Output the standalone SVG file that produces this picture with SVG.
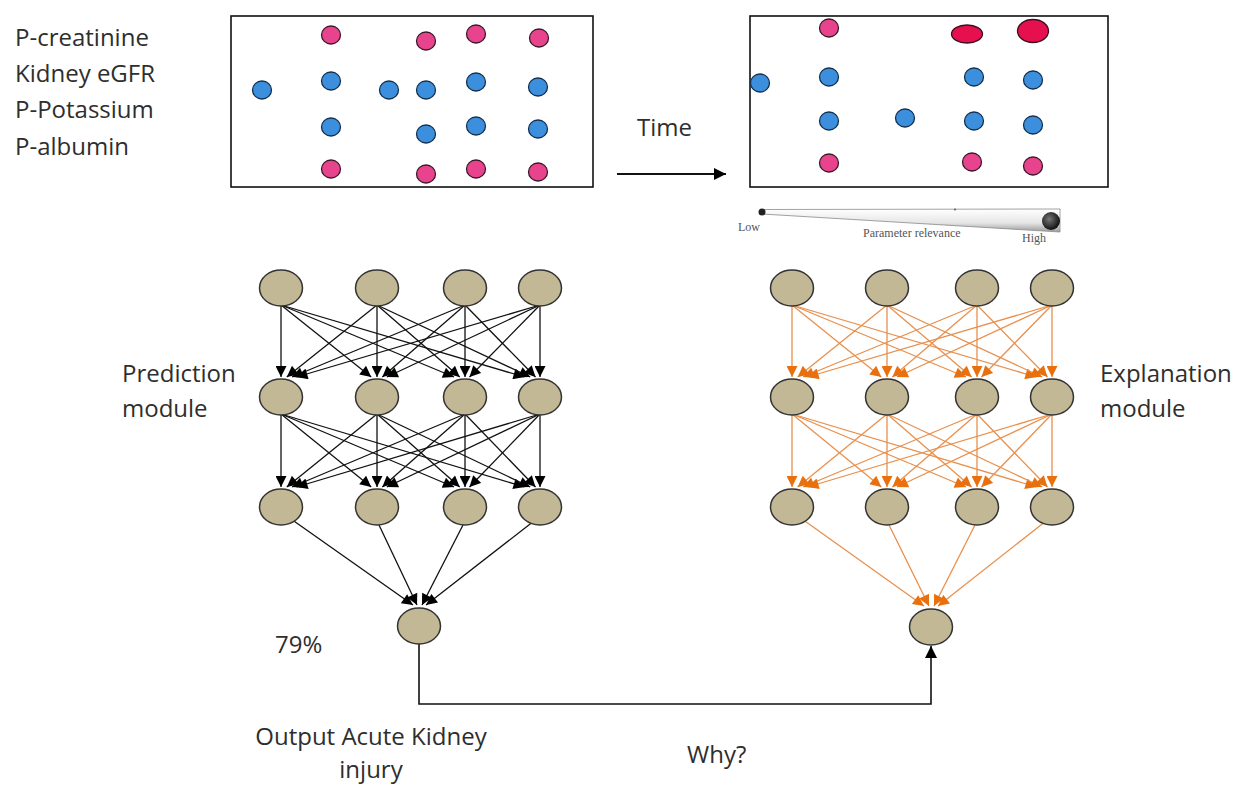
<svg xmlns="http://www.w3.org/2000/svg" width="1235" height="787" viewBox="0 0 1235 787">
<style>
.t{font-family:"Open Sans","Liberation Sans",sans-serif;font-size:24px;fill:#2e2e2e}
.s{font-family:"Liberation Serif","Times New Roman",serif;font-size:12px;fill:#555}
.box{fill:#fff;stroke:#111;stroke-width:1.6}
.pk{fill:#E8438D;stroke:#3a1a28;stroke-width:1.3}
.bl{fill:#3C8FDD;stroke:#14304f;stroke-width:1.3}
.rd{fill:#E6104F;stroke:#3a1020;stroke-width:1.3}
.nd{fill:#C3B896;stroke:#333;stroke-width:1.5}
.eb{stroke:#111;stroke-width:1.3;fill:none;marker-end:url(#ahb)}
.eo{stroke:#E8904E;stroke-width:1.3;fill:none;marker-end:url(#aho)}
.ln{stroke:#111;stroke-width:1.6;fill:none}
</style>
<defs>
<marker id="ahb" viewBox="0 0 10 10" refX="10" refY="5" markerWidth="13" markerHeight="11" markerUnits="userSpaceOnUse" orient="auto"><path d="M0,0 L10,5 L0,10 z" fill="#000"/></marker>
<marker id="aho" viewBox="0 0 10 10" refX="10" refY="5" markerWidth="13" markerHeight="11" markerUnits="userSpaceOnUse" orient="auto"><path d="M0,0 L10,5 L0,10 z" fill="#E8700F"/></marker>
<marker id="ahk" viewBox="0 0 10 10" refX="10" refY="5" markerWidth="14" markerHeight="12" markerUnits="userSpaceOnUse" orient="auto"><path d="M0,0 L10,5 L0,10 z" fill="#000"/></marker>
<linearGradient id="grad" x1="0" y1="0" x2="1" y2="0">
<stop offset="0" stop-color="#C63F72"/>
<stop offset="0.4" stop-color="#D8449A"/>
<stop offset="0.75" stop-color="#8E5FA8"/>
<stop offset="1" stop-color="#3FA2D2"/>
</linearGradient>
<linearGradient id="wedge" x1="0" y1="0" x2="0" y2="1">
<stop offset="0" stop-color="#ffffff"/>
<stop offset="0.6" stop-color="#e6e6e6"/>
<stop offset="1" stop-color="#9a9a9a"/>
</linearGradient>
<radialGradient id="ball" cx="0.4" cy="0.4" r="0.6">
<stop offset="0" stop-color="#777"/>
<stop offset="1" stop-color="#111"/>
</radialGradient>
</defs>

<g id="labels-left">
<text class="t" x="15" y="46">P-creatinine</text>
<text class="t" x="15" y="82">Kidney eGFR</text>
<text class="t" x="15" y="118">P-Potassium</text>
<text class="t" x="15" y="155">P-albumin</text>
</g>

<g id="box-before">
<rect class="box" x="231" y="16" width="362" height="171"/>
<ellipse class="pk" cx="331" cy="35" rx="9.5" ry="9"/>
<ellipse class="pk" cx="426" cy="41" rx="9.5" ry="9"/>
<ellipse class="pk" cx="476" cy="34" rx="9.5" ry="9"/>
<ellipse class="pk" cx="539" cy="38" rx="9.5" ry="9"/>
<ellipse class="bl" cx="262" cy="90" rx="9.5" ry="9"/>
<ellipse class="bl" cx="331" cy="81" rx="9.5" ry="9"/>
<ellipse class="bl" cx="389" cy="90" rx="9.5" ry="9"/>
<ellipse class="bl" cx="426" cy="90" rx="9.5" ry="9"/>
<ellipse class="bl" cx="476" cy="82" rx="9.5" ry="9"/>
<ellipse class="bl" cx="538" cy="87" rx="9.5" ry="9"/>
<ellipse class="bl" cx="331" cy="127" rx="9.5" ry="9"/>
<ellipse class="bl" cx="426" cy="134" rx="9.5" ry="9"/>
<ellipse class="bl" cx="476" cy="126" rx="9.5" ry="9"/>
<ellipse class="bl" cx="538" cy="129" rx="9.5" ry="9"/>
<ellipse class="pk" cx="331" cy="169" rx="9.5" ry="9"/>
<ellipse class="pk" cx="426" cy="174" rx="9.5" ry="9"/>
<ellipse class="pk" cx="476" cy="169" rx="9.5" ry="9"/>
<ellipse class="pk" cx="538" cy="172" rx="9.5" ry="9"/>
</g>

<g id="time">
<text class="t" x="637" y="136">Time</text>
<line x1="617" y1="174" x2="726" y2="174" stroke="#111" stroke-width="1.8" marker-end="url(#ahk)"/>
</g>

<g id="box-after">
<rect class="box" x="750" y="16" width="358" height="171"/>
<ellipse class="pk" cx="829" cy="28" rx="9.5" ry="9"/>
<ellipse class="rd" cx="967" cy="34" rx="15.5" ry="9"/>
<ellipse class="rd" cx="1033" cy="31" rx="15.5" ry="11.5"/>
<ellipse class="bl" cx="760" cy="83" rx="9.5" ry="9"/>
<ellipse class="bl" cx="829" cy="77" rx="9.5" ry="9"/>
<ellipse class="bl" cx="974" cy="77" rx="9.5" ry="9"/>
<ellipse class="bl" cx="1033" cy="80" rx="9.5" ry="9"/>
<ellipse class="bl" cx="829" cy="121" rx="9.5" ry="9"/>
<ellipse class="bl" cx="905" cy="118" rx="9.5" ry="9"/>
<ellipse class="bl" cx="974" cy="121" rx="9.5" ry="9"/>
<ellipse class="bl" cx="1033" cy="125" rx="9.5" ry="9"/>
<ellipse class="pk" cx="829" cy="163" rx="9.5" ry="9"/>
<ellipse class="pk" cx="972" cy="162" rx="9.5" ry="9"/>
<ellipse class="pk" cx="1033" cy="166" rx="9.5" ry="9"/>
</g>

<g id="gradient-bar">
<line x1="302" y1="212" x2="688" y2="212" stroke="url(#grad)" stroke-width="3.5"/>
</g>

<g id="relevance-scale">
<polygon points="762,209.5 1060,209 1060,232 762,214" fill="url(#wedge)" stroke="#8a8a8a" stroke-width="0.8"/>
<circle cx="762" cy="212" r="3.5" fill="#222"/>
<circle cx="1051" cy="221" r="9" fill="url(#ball)"/>
<circle cx="955" cy="209.5" r="1" fill="#555"/>
<text class="s" x="738" y="231">Low</text>
<text class="s" x="863" y="237">Parameter relevance</text>
<text class="s" x="1022" y="242">High</text>
</g>

<g id="connectors">
<g id="pred-edges">
<line class="eb" x1="281" y1="305" x2="281" y2="377"/>
<line class="eb" x1="281" y1="305" x2="371.2" y2="377"/>
<line class="eb" x1="281" y1="305" x2="454" y2="377"/>
<line class="eb" x1="281" y1="305" x2="524.5" y2="377"/>
<line class="eb" x1="377" y1="305" x2="286.8" y2="377"/>
<line class="eb" x1="377" y1="305" x2="377" y2="377"/>
<line class="eb" x1="377" y1="305" x2="459.7" y2="377"/>
<line class="eb" x1="377" y1="305" x2="530.2" y2="377"/>
<line class="eb" x1="465" y1="305" x2="292" y2="377"/>
<line class="eb" x1="465" y1="305" x2="382.3" y2="377"/>
<line class="eb" x1="465" y1="305" x2="465" y2="377"/>
<line class="eb" x1="465" y1="305" x2="535.5" y2="377"/>
<line class="eb" x1="540" y1="305" x2="296.5" y2="377"/>
<line class="eb" x1="540" y1="305" x2="386.8" y2="377"/>
<line class="eb" x1="540" y1="305" x2="469.5" y2="377"/>
<line class="eb" x1="540" y1="305" x2="540" y2="377"/>
<line class="eb" x1="281" y1="414" x2="281" y2="487"/>
<line class="eb" x1="281" y1="414" x2="371.2" y2="487"/>
<line class="eb" x1="281" y1="414" x2="454" y2="487"/>
<line class="eb" x1="281" y1="414" x2="524.5" y2="487"/>
<line class="eb" x1="377" y1="414" x2="286.8" y2="487"/>
<line class="eb" x1="377" y1="414" x2="377" y2="487"/>
<line class="eb" x1="377" y1="414" x2="459.7" y2="487"/>
<line class="eb" x1="377" y1="414" x2="530.2" y2="487"/>
<line class="eb" x1="465" y1="414" x2="292" y2="487"/>
<line class="eb" x1="465" y1="414" x2="382.3" y2="487"/>
<line class="eb" x1="465" y1="414" x2="465" y2="487"/>
<line class="eb" x1="465" y1="414" x2="535.5" y2="487"/>
<line class="eb" x1="540" y1="414" x2="296.5" y2="487"/>
<line class="eb" x1="540" y1="414" x2="386.8" y2="487"/>
<line class="eb" x1="540" y1="414" x2="469.5" y2="487"/>
<line class="eb" x1="540" y1="414" x2="540" y2="487"/>
<line class="eb" x1="291" y1="519" x2="413" y2="605"/>
<line class="eb" x1="379" y1="525" x2="417" y2="605"/>
<line class="eb" x1="463" y1="525" x2="422" y2="605"/>
<line class="eb" x1="534" y1="521" x2="426" y2="605"/>
</g>
<g id="expl-edges">
<line class="eo" x1="792" y1="305" x2="792" y2="377"/>
<line class="eo" x1="792" y1="305" x2="881.3" y2="377"/>
<line class="eo" x1="792" y1="305" x2="965.9" y2="377"/>
<line class="eo" x1="792" y1="305" x2="1036.4" y2="377"/>
<line class="eo" x1="887" y1="305" x2="797.7" y2="377"/>
<line class="eo" x1="887" y1="305" x2="887" y2="377"/>
<line class="eo" x1="887" y1="305" x2="971.6" y2="377"/>
<line class="eo" x1="887" y1="305" x2="1042.2" y2="377"/>
<line class="eo" x1="977" y1="305" x2="803.1" y2="377"/>
<line class="eo" x1="977" y1="305" x2="892.4" y2="377"/>
<line class="eo" x1="977" y1="305" x2="977" y2="377"/>
<line class="eo" x1="977" y1="305" x2="1047.5" y2="377"/>
<line class="eo" x1="1052" y1="305" x2="807.6" y2="377"/>
<line class="eo" x1="1052" y1="305" x2="896.9" y2="377"/>
<line class="eo" x1="1052" y1="305" x2="981.5" y2="377"/>
<line class="eo" x1="1052" y1="305" x2="1052" y2="377"/>
<line class="eo" x1="792" y1="414" x2="792" y2="487"/>
<line class="eo" x1="792" y1="414" x2="881.3" y2="487"/>
<line class="eo" x1="792" y1="414" x2="965.9" y2="487"/>
<line class="eo" x1="792" y1="414" x2="1036.4" y2="487"/>
<line class="eo" x1="887" y1="414" x2="797.7" y2="487"/>
<line class="eo" x1="887" y1="414" x2="887" y2="487"/>
<line class="eo" x1="887" y1="414" x2="971.6" y2="487"/>
<line class="eo" x1="887" y1="414" x2="1042.2" y2="487"/>
<line class="eo" x1="977" y1="414" x2="803.1" y2="487"/>
<line class="eo" x1="977" y1="414" x2="892.4" y2="487"/>
<line class="eo" x1="977" y1="414" x2="977" y2="487"/>
<line class="eo" x1="977" y1="414" x2="1047.5" y2="487"/>
<line class="eo" x1="1052" y1="414" x2="807.6" y2="487"/>
<line class="eo" x1="1052" y1="414" x2="896.9" y2="487"/>
<line class="eo" x1="1052" y1="414" x2="981.5" y2="487"/>
<line class="eo" x1="1052" y1="414" x2="1052" y2="487"/>
<line class="eo" x1="802" y1="519" x2="924" y2="606"/>
<line class="eo" x1="889" y1="525" x2="929" y2="606"/>
<line class="eo" x1="975" y1="525" x2="934" y2="606"/>
<line class="eo" x1="1046" y1="521" x2="938" y2="606"/>
</g>
<path id="why-link" class="ln" d="M419,644 V704 H931 V646" marker-end="url(#ahk)"/>
</g>

<g id="pred-l1-n1"><ellipse class="nd" cx="281" cy="288" rx="21.5" ry="18"/></g>
<g id="pred-l1-n2"><ellipse class="nd" cx="377" cy="288" rx="21.5" ry="18"/></g>
<g id="pred-l1-n3"><ellipse class="nd" cx="465" cy="288" rx="21.5" ry="18"/></g>
<g id="pred-l1-n4"><ellipse class="nd" cx="540" cy="288" rx="21.5" ry="18"/></g>
<g id="pred-l2-n1"><ellipse class="nd" cx="281" cy="397" rx="21.5" ry="18"/></g>
<g id="pred-l2-n2"><ellipse class="nd" cx="377" cy="397" rx="21.5" ry="18"/></g>
<g id="pred-l2-n3"><ellipse class="nd" cx="465" cy="397" rx="21.5" ry="18"/></g>
<g id="pred-l2-n4"><ellipse class="nd" cx="540" cy="397" rx="21.5" ry="18"/></g>
<g id="pred-l3-n1"><ellipse class="nd" cx="281" cy="507" rx="21.5" ry="18"/></g>
<g id="pred-l3-n2"><ellipse class="nd" cx="377" cy="507" rx="21.5" ry="18"/></g>
<g id="pred-l3-n3"><ellipse class="nd" cx="465" cy="507" rx="21.5" ry="18"/></g>
<g id="pred-l3-n4"><ellipse class="nd" cx="540" cy="507" rx="21.5" ry="18"/></g>
<g id="pred-out"><ellipse class="nd" cx="419" cy="626" rx="21.5" ry="18"/></g>

<g id="expl-l1-n1"><ellipse class="nd" cx="792" cy="288" rx="21.5" ry="18"/></g>
<g id="expl-l1-n2"><ellipse class="nd" cx="887" cy="288" rx="21.5" ry="18"/></g>
<g id="expl-l1-n3"><ellipse class="nd" cx="977" cy="288" rx="21.5" ry="18"/></g>
<g id="expl-l1-n4"><ellipse class="nd" cx="1052" cy="288" rx="21.5" ry="18"/></g>
<g id="expl-l2-n1"><ellipse class="nd" cx="792" cy="397" rx="21.5" ry="18"/></g>
<g id="expl-l2-n2"><ellipse class="nd" cx="887" cy="397" rx="21.5" ry="18"/></g>
<g id="expl-l2-n3"><ellipse class="nd" cx="977" cy="397" rx="21.5" ry="18"/></g>
<g id="expl-l2-n4"><ellipse class="nd" cx="1052" cy="397" rx="21.5" ry="18"/></g>
<g id="expl-l3-n1"><ellipse class="nd" cx="792" cy="507" rx="21.5" ry="18"/></g>
<g id="expl-l3-n2"><ellipse class="nd" cx="887" cy="507" rx="21.5" ry="18"/></g>
<g id="expl-l3-n3"><ellipse class="nd" cx="977" cy="507" rx="21.5" ry="18"/></g>
<g id="expl-l3-n4"><ellipse class="nd" cx="1052" cy="507" rx="21.5" ry="18"/></g>
<g id="expl-out"><ellipse class="nd" cx="931" cy="627" rx="21.5" ry="18"/></g>

<g id="label-prediction">
<text class="t" x="122" y="382">Prediction</text>
<text class="t" x="122" y="417">module</text>
</g>
<g id="label-explanation">
<text class="t" x="1100" y="382">Explanation</text>
<text class="t" x="1100" y="417">module</text>
</g>
<g id="label-pct"><text class="t" x="275" y="653">79%</text></g>
<g id="label-output">
<text class="t" x="371" y="745" text-anchor="middle">Output Acute Kidney</text>
<text class="t" x="371" y="778" text-anchor="middle">injury</text>
</g>
<g id="label-why"><text class="t" x="687" y="763">Why?</text></g>
</svg>
